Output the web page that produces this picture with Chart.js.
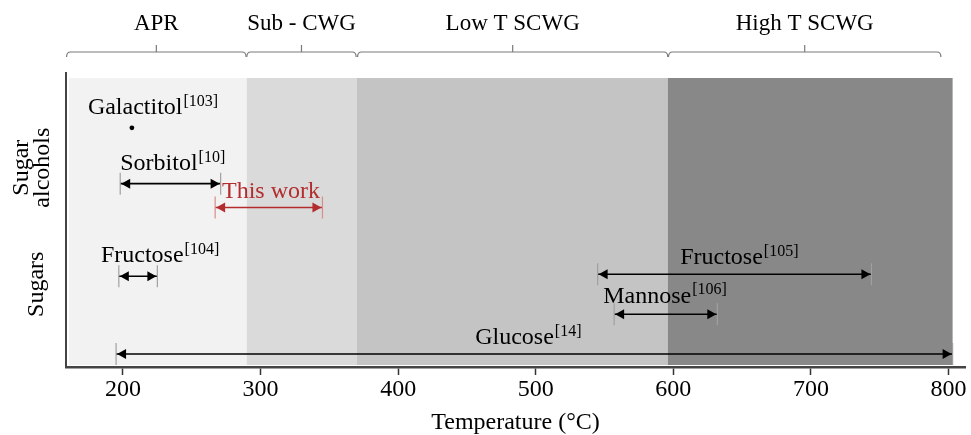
<!DOCTYPE html>
<html><head><meta charset="utf-8">
<script src="https://cdn.jsdelivr.net/npm/chart.js@4/dist/chart.umd.min.js"></script>
<style>html,body{margin:0;padding:0;background:#fff}</style>
</head><body>
<canvas id="c" width="971" height="435"></canvas>
<script>
// ---- data ----
const regionNames = ['APR', 'Sub - CWG', 'Low T SCWG', 'High T SCWG'];
const regionStart = [160.8, 290, 370, 596];
const regionEnd = [290, 370, 596, 803];
const regionColors = ['#f2f2f2', '#dadada', '#c4c4c4', '#888888'];
const bracketStart = [159, 290, 370.5, 596.5];
const bracketEnd = [289.5, 369.5, 596, 794.5];

const rangeNames = ['Sorbitol', 'This work', 'Fructose', 'Fructose', 'Mannose', 'Glucose'];
const rangeRefs = ['[10]', '', '[104]', '[105]', '[106]', '[14]'];
const rangeStart = [198, 267, 197, 545, 557, 195];
const rangeEnd = [271, 345, 225, 744, 632, 803];
const rangeRow = [18.4, 16.0, 9.1, 9.3, 5.3, 1.3];
const rangeLabelX = [198, 272, 184, 605, 549, 456];
const rangeLabelY = [20.4, 17.6, 11.2, 11.0, 7.1, 2.9];
const rangeColors = ['#000000', '#b32d2e', '#000000', '#000000', '#000000', '#000000'];
const rangeTickColors = ['#a0a0a0', '#d98c8c', '#a0a0a0', '#a0a0a0', '#a0a0a0', '#a0a0a0'];

const pointNames = ['Galactitol'];
const pointRefs = ['[103]'];
const pointX = [206.5];
const pointY = [24];
const pointLabelX = [174.5];
const pointLabelY = [26];

const groupLabels = [['Sugar', 'alcohols'], ['Sugars']];
const groupY = [20, 8.3];

const xTicks = [200, 300, 400, 500, 600, 700, 800];
const xMin = 158.6, xMax = 812;
const yMin = 0, yMax = 29;

const FONT = "'Liberation Serif', 'Times New Roman', serif";

// ---- datasets ----
const datasets = [];
rangeNames.forEach((n, i) => {
  datasets.push({
    label: n,
    data: [{x: rangeStart[i], y: rangeRow[i]}, {x: rangeEnd[i], y: rangeRow[i]}],
    showLine: true,
    borderColor: rangeColors[i],
    borderWidth: 1.6,
    pointRadius: 0,
    isArrow: true,
    arrowIndex: i
  });
});
pointNames.forEach((n, i) => {
  datasets.push({
    label: n,
    data: [{x: pointX[i], y: pointY[i]}],
    showLine: false,
    pointRadius: 2.4,
    backgroundColor: '#000',
    borderColor: '#000',
    borderWidth: 0
  });
});

function drawLabel(ctx, x, y, name, ref, color) {
  ctx.save();
  ctx.fillStyle = color;
  ctx.textBaseline = 'middle';
  ctx.textAlign = 'left';
  ctx.font = '24px ' + FONT;
  ctx.fillText(name, x, y);
  const w = ctx.measureText(name).width;
  if (ref) {
    ctx.font = '16px ' + FONT;
    ctx.fillText(ref, x + w + 1, y - 6);
  }
  ctx.restore();
}

const customPlugin = {
  id: 'custom',
  beforeDatasetsDraw(chart) {
    const {ctx, chartArea, scales: {x}} = chart;
    ctx.save();
    regionStart.forEach((s, i) => {
      const x0 = x.getPixelForValue(s), x1 = x.getPixelForValue(regionEnd[i]);
      ctx.fillStyle = regionColors[i];
      ctx.fillRect(x0, chartArea.top, x1 - x0, chartArea.bottom - chartArea.top - 2);
    });
    ctx.restore();
  },
  afterDatasetsDraw(chart) {
    const {ctx, chartArea, scales: {x, y}} = chart;
    ctx.save();
    // arrowheads and end ticks
    chart.data.datasets.forEach((ds, di) => {
      if (!ds.isArrow) return;
      const meta = chart.getDatasetMeta(di);
      const p0 = meta.data[0], p1 = meta.data[1];
      const i = ds.arrowIndex;
      ctx.strokeStyle = rangeTickColors[i];
      ctx.lineWidth = 1.2;
      [p0, p1].forEach(p => {
        ctx.beginPath();
        ctx.moveTo(p.x, p.y - 11);
        ctx.lineTo(p.x, p.y + 11);
        ctx.stroke();
      });
      ctx.fillStyle = rangeColors[i];
      const L = 9, H = 5;
      ctx.beginPath();
      ctx.moveTo(p0.x + 1, p0.y);
      ctx.lineTo(p0.x + 1 + L, p0.y - H);
      ctx.lineTo(p0.x + 1 + L, p0.y + H);
      ctx.closePath();
      ctx.fill();
      ctx.beginPath();
      ctx.moveTo(p1.x - 1, p1.y);
      ctx.lineTo(p1.x - 1 - L, p1.y - H);
      ctx.lineTo(p1.x - 1 - L, p1.y + H);
      ctx.closePath();
      ctx.fill();
    });
    // labels
    rangeNames.forEach((n, i) => {
      drawLabel(ctx, x.getPixelForValue(rangeLabelX[i]), y.getPixelForValue(rangeLabelY[i]), n, rangeRefs[i], rangeColors[i]);
    });
    pointNames.forEach((n, i) => {
      drawLabel(ctx, x.getPixelForValue(pointLabelX[i]), y.getPixelForValue(pointLabelY[i]), n, pointRefs[i], '#000');
    });
    // left axis line
    ctx.strokeStyle = '#444';
    ctx.lineWidth = 2;
    ctx.beginPath();
    ctx.moveTo(chartArea.left, chartArea.top - 6);
    ctx.lineTo(chartArea.left, chartArea.bottom);
    ctx.stroke();
    // group labels (rotated)
    ctx.fillStyle = '#000';
    ctx.font = '24px ' + FONT;
    ctx.textAlign = 'center';
    ctx.textBaseline = 'middle';
    groupLabels.forEach((lines, gi) => {
      const cy = y.getPixelForValue(groupY[gi]);
      const cx = lines.length > 1 ? 32 : 37;
      const lh = 21;
      lines.forEach((t, li) => {
        const lx = cx + (li - (lines.length - 1) / 2) * lh;
        ctx.save();
        ctx.translate(lx, cy);
        ctx.rotate(-Math.PI / 2);
        ctx.fillText(t, 0, 0);
        ctx.restore();
      });
    });
    // top brackets
    const by = 52, hook = 5, tip = 7;
    ctx.strokeStyle = '#7a7a7a';
    ctx.lineWidth = 1.2;
    regionNames.forEach((n, i) => {
      const a = x.getPixelForValue(bracketStart[i]);
      const b = x.getPixelForValue(bracketEnd[i]);
      const m = (a + b) / 2;
      ctx.beginPath();
      ctx.moveTo(a, by + hook);
      ctx.quadraticCurveTo(a, by, a + 4, by);
      ctx.lineTo(b - 4, by);
      ctx.quadraticCurveTo(b, by, b, by + hook);
      ctx.stroke();
      ctx.beginPath();
      ctx.moveTo(m, by);
      ctx.lineTo(m, by - tip);
      ctx.stroke();
      ctx.fillStyle = '#000';
      ctx.font = '23px ' + FONT;
      ctx.textAlign = 'center';
      ctx.textBaseline = 'middle';
      ctx.fillText(n, m, 24);
    });
    ctx.restore();
  }
};

new Chart(document.getElementById('c'), {
  type: 'scatter',
  data: {datasets},
  options: {
    responsive: false,
    animation: false,
    events: [],
    layout: {padding: {top: 78, left: 66, right: 6, bottom: 0}},
    plugins: {legend: {display: false}, tooltip: {enabled: false}},
    scales: {
      x: {
        type: 'linear',
        min: xMin, max: xMax,
        afterBuildTicks: (s) => { s.ticks = xTicks.map(v => ({value: v})); },
        grid: {drawOnChartArea: false, drawTicks: true, tickLength: 8, tickWidth: 1.5, tickColor: '#333'},
        border: {display: true, color: '#444', width: 2.5},
        ticks: {color: '#000', font: {family: FONT, size: 24, lineHeight: 1}, padding: 3, maxRotation: 0, autoSkip: false},
        title: {display: true, text: 'Temperature (°C)', color: '#000', font: {family: FONT, size: 24, lineHeight: 1}, padding: {top: 6, bottom: 0}}
      },
      y: {
        display: false,
        min: yMin, max: yMax
      }
    }
  },
  plugins: [customPlugin]
});
</script>
</body></html>
